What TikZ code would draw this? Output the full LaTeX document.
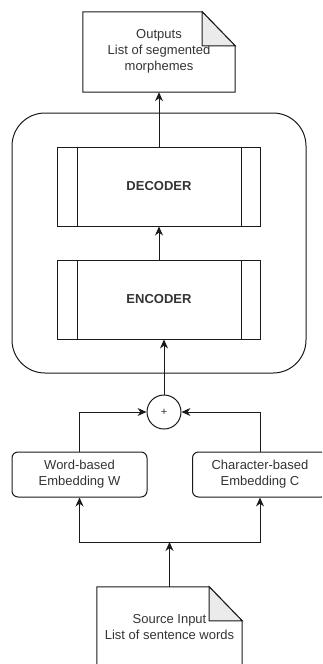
\documentclass[tikz,border=0pt]{standalone}
\usepackage{fontspec}
\setmainfont{Liberation Sans}
\usetikzlibrary{positioning,arrows.meta,calc}

\definecolor{txtgray}{HTML}{333333}
\definecolor{linegray}{HTML}{1A1A1A}
\definecolor{foldgray}{HTML}{EBEBEB}

\begin{document}
\begin{tikzpicture}[x=1pt,y=-1pt,
    every node/.style={font=\fontsize{13}{15.8}\selectfont, text=txtgray},
    box/.style={draw=linegray, line width=1pt, minimum width=203pt, minimum height=79pt, font=\fontsize{13}{15.8}\selectfont\bfseries},
    embed/.style={draw=linegray, line width=1pt, rounded corners=6pt, minimum width=135pt, minimum height=45pt, align=center},
    doc/.style={inner sep=0pt, align=center},
    outline/.style={draw=linegray, line width=1pt},
    arr/.style={draw=linegray, line width=1pt, -{Stealth[length=9pt,width=8pt]}}]
    % page frame
    \clip (0,0) rectangle (322,664);

    % outer seq2seq container
    \node[draw=linegray, line width=1pt, rounded corners=33pt, minimum width=294pt, minimum height=260pt] (model) at (159,243) {};

    % encoder and decoder blocks with side bars
    \node[box] (dec) at (159,186.5) {DECODER};
    \node[box] (enc) at (159,299.5) {ENCODER};
    \foreach \blk in {dec,enc} {
        \draw[outline] ([xshift=20pt]\blk.north west) -- ([xshift=20pt]\blk.south west);
        \draw[outline] ([xshift=-20pt]\blk.north east) -- ([xshift=-20pt]\blk.south east);
    }

    % output document
    \node[doc, minimum width=152pt, minimum height=79pt] (out) at (159,51.5) {Outputs\\List of segmented\\morphemes};
    \draw[outline] ([yshift=-1pt]out.south west) -- ([yshift=-1pt]out.south east) -- ([yshift=-34pt]out.north east)
        -- ([xshift=-33pt]out.north east) -- (out.north west) -- cycle;
    \filldraw[outline, fill=foldgray] ([xshift=-33pt]out.north east) -- ([xshift=-33pt,yshift=-34pt]out.north east)
        -- ([yshift=-34pt]out.north east) -- cycle;

    % concatenation node
    \node[draw=linegray, line width=1pt, circle, minimum size=34pt, inner sep=0pt, font=\fontsize{11}{12}\selectfont] (plus) at (164,412) {+};

    % embeddings
    \node[embed] (word) at (79.5,474.5) {Word-based\\Embedding W};
    \node[embed] (char) at (260,474.5) {Character-based\\Embedding C};

    % source document
    \node[doc, minimum width=145pt, minimum height=80pt] (src) at (169.5,627) {Source Input\\List of sentence words};
    \draw[outline] (src.south west) -- (src.south east) -- ([yshift=-34pt]src.north east)
        -- ([xshift=-33pt]src.north east) -- (src.north west) -- cycle;
    \filldraw[outline, fill=foldgray] ([xshift=-33pt]src.north east) -- ([xshift=-33pt,yshift=-34pt]src.north east)
        -- ([yshift=-34pt]src.north east) -- cycle;
    \coordinate (split) at (169.5,542);

    % connectors
    \draw[arr] (src.north) -- (split);
    \draw[arr] (split) -| (word.south);
    \draw[arr] (split) -| (char.south);
    \draw[arr] (word.north) |- (plus.west);
    \draw[arr] (char.north) |- (plus.east);
    \draw[arr] (plus.north) -- (plus.north |- enc.south);
    \draw[arr] (enc.north) -- (dec.south);
    \draw[arr] (dec.north) -- ([yshift=-1pt]out.south);
\end{tikzpicture}
\end{document}
